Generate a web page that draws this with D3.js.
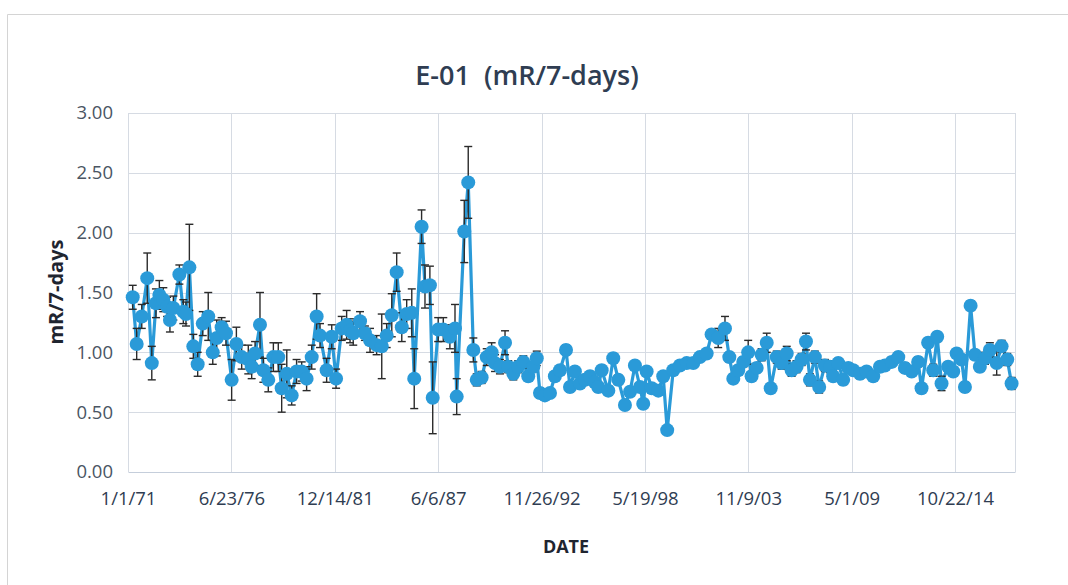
<!DOCTYPE html>
<html><head><meta charset="utf-8">
<script src="https://cdn.jsdelivr.net/npm/d3@7"></script>
<style>html,body{margin:0;padding:0;background:#fff;}svg{display:block;}text{white-space:pre;}</style>
</head><body>
<svg id="chart" width="1068" height="585"></svg>
<script>
// decimal-year sample dates
const years = [1971.25,1971.46,1971.73,1972.02,1972.26,1972.48,1972.66,1972.87,1973.07,1973.22,1973.40,1973.72,1973.93,1974.07,1974.25,1974.46,1974.69,1974.96,1975.25,1975.49,1975.70,1975.96,1976.19,1976.49,1976.74,1977.02,1977.37,1977.55,1977.73,1977.99,1978.17,1978.43,1978.70,1978.96,1979.14,1979.41,1979.67,1979.93,1980.20,1980.46,1980.73,1980.99,1981.17,1981.52,1981.79,1982.02,1982.32,1982.58,1982.76,1982.93,1983.29,1983.55,1983.82,1984.17,1984.44,1984.70,1984.97,1985.23,1985.50,1985.76,1986.03,1986.16,1986.55,1986.73,1986.99,1987.14,1987.43,1987.70,1988.05,1988.32,1988.41,1988.81,1989.02,1989.29,1989.47,1989.73,1990.00,1990.26,1990.44,1990.70,1990.97,1991.14,1991.41,1991.67,1991.94,1992.20,1992.47,1992.65,1992.82,1993.08,1993.35,1993.61,1993.88,1994.20,1994.41,1994.67,1994.94,1995.20,1995.47,1995.73,1995.91,1996.09,1996.44,1996.70,1996.97,1997.32,1997.59,1997.85,1998.12,1998.29,1998.47,1998.74,1999.09,1999.35,1999.56,1999.88,2000.23,2000.59,2000.94,2001.29,2001.65,2001.91,2002.26,2002.62,2002.85,2003.06,2003.32,2003.59,2003.85,2004.03,2004.30,2004.56,2004.83,2005.04,2005.36,2005.62,2005.89,2006.15,2006.41,2006.68,2006.91,2007.12,2007.38,2007.61,2007.91,2008.18,2008.35,2008.62,2008.88,2009.15,2009.41,2009.77,2010.12,2010.47,2010.83,2011.09,2011.45,2011.80,2012.15,2012.51,2012.85,2013.03,2013.38,2013.65,2013.86,2014.09,2014.44,2014.71,2014.89,2015.15,2015.33,2015.63,2015.86,2016.12,2016.39,2016.65,2017.01,2017.27,2017.57,2017.80];
// exposure, mR/7-days
const values = [1.46,1.07,1.30,1.62,0.91,1.41,1.48,1.44,1.38,1.27,1.37,1.65,1.34,1.32,1.71,1.05,0.90,1.24,1.30,1.00,1.12,1.21,1.16,0.77,1.07,0.96,0.94,0.88,0.99,1.23,0.85,0.77,0.96,0.96,0.70,0.82,0.64,0.84,0.84,0.78,0.96,1.30,1.14,0.85,1.13,0.78,1.20,1.23,1.18,1.16,1.26,1.16,1.10,1.06,1.05,1.14,1.31,1.67,1.21,1.32,1.33,0.78,2.05,1.55,1.56,0.62,1.19,1.19,1.13,1.20,0.63,2.01,2.42,1.02,0.77,0.79,0.96,1.00,0.91,0.88,1.08,0.88,0.82,0.88,0.92,0.80,0.88,0.95,0.66,0.64,0.66,0.80,0.85,1.02,0.71,0.84,0.74,0.77,0.80,0.75,0.71,0.85,0.68,0.95,0.77,0.56,0.67,0.89,0.71,0.57,0.84,0.70,0.68,0.80,0.35,0.85,0.89,0.91,0.91,0.96,0.99,1.15,1.12,1.20,0.96,0.78,0.85,0.92,1.00,0.80,0.87,0.98,1.08,0.70,0.96,0.91,0.99,0.85,0.88,0.94,1.09,0.77,0.96,0.71,0.89,0.88,0.80,0.91,0.77,0.87,0.85,0.82,0.84,0.80,0.88,0.89,0.92,0.96,0.87,0.84,0.92,0.70,1.08,0.85,1.13,0.74,0.88,0.84,0.99,0.94,0.71,1.39,0.98,0.88,0.95,1.02,0.91,1.05,0.94,0.74];
// +/- uncertainty
const errors = [0.10,0.13,0.10,0.21,0.14,0.12,0.12,0.10,0.08,0.10,0.10,0.08,0.10,0.10,0.36,0.10,0.10,0.10,0.20,0.10,0.15,0.08,0.10,0.17,0.14,0.10,0.12,0.10,0.10,0.27,0.10,0.10,0.12,0.12,0.20,0.20,0.08,0.10,0.08,0.10,0.10,0.19,0.10,0.10,0.10,0.08,0.10,0.12,0.10,0.10,0.08,0.06,0.10,0.08,0.27,0.10,0.18,0.16,0.12,0.12,0.20,0.25,0.14,0.18,0.16,0.30,0.10,0.10,0.10,0.20,0.15,0.26,0.30,0.10,0.05,0.05,0.07,0.08,0.07,0.06,0.10,0.05,0.05,0.05,0.05,0.04,0.04,0.06,0.04,0.03,0.03,0.04,0.04,0.04,0.04,0.04,0.04,0.04,0.04,0.04,0.04,0.04,0.04,0.04,0.04,0.03,0.03,0.03,0.03,0.03,0.03,0.03,0.03,0.03,0.03,0.03,0.03,0.03,0.03,0.03,0.03,0.03,0.08,0.10,0.04,0.04,0.04,0.04,0.10,0.04,0.04,0.05,0.08,0.04,0.05,0.05,0.06,0.05,0.05,0.05,0.07,0.05,0.05,0.05,0.05,0.05,0.04,0.04,0.04,0.04,0.04,0.04,0.04,0.04,0.04,0.04,0.04,0.04,0.04,0.04,0.04,0.04,0.04,0.05,0.04,0.06,0.04,0.04,0.04,0.04,0.04,0.04,0.03,0.04,0.05,0.06,0.10,0.05,0.05,0.05,0.05];
const yTicks = [0,0.5,1,1.5,2,2.5,3];
const tickStepDays = 2000;
const axisStart = "1971-01-01";
const axisSpanDays = 17160;
const title = "E-01  (mR/7-days)";
const yTitle = "mR/7-days";
const xTitle = "DATE";

function yearToDate(y){
  const yr = Math.floor(y);
  const s = Date.UTC(yr,0,1), e = Date.UTC(yr+1,0,1);
  return new Date(s + (y-yr)*(e-s));
}
const data = years.map((y,i)=>({d:yearToDate(y), v:values[i], e:errors[i]}));

const svg = d3.select("#chart");
const M = {l:128, r:1015, t:113, b:472};
const start = new Date(axisStart+"T00:00:00Z");
const end = d3.utcDay.offset(start, axisSpanDays);
const x = d3.scaleUtc().domain([start,end]).range([M.l,M.r]);
const y = d3.scaleLinear().domain([0,3]).range([M.b,M.t]);
const tickDates = d3.range(0, axisSpanDays, tickStepDays).map(k=>d3.utcDay.offset(start,k));
const fmt = d=>`${d.getUTCMonth()+1}/${d.getUTCDate()}/${String(d.getUTCFullYear()).slice(2)}`;

// chart border
svg.append("path").attr("d","M7.5,585 V14.5 H1068").attr("fill","none").attr("stroke","#d4d4d4").attr("stroke-width",1);

const font = "'Open Sans', 'Liberation Sans', sans-serif";
const grid = "#d6dbe3";

// horizontal gridlines
svg.append("g").selectAll("line").data(yTicks.filter(t=>t>0)).join("line")
  .attr("x1",M.l).attr("x2",M.r).attr("y1",d=>Math.round(y(d))+0.5).attr("y2",d=>Math.round(y(d))+0.5)
  .attr("stroke",grid).attr("stroke-width",1);
// vertical gridlines
svg.append("g").selectAll("line").data(tickDates).join("line")
  .attr("x1",d=>Math.round(x(d))+0.5).attr("x2",d=>Math.round(x(d))+0.5).attr("y1",M.t).attr("y2",M.b)
  .attr("stroke",grid).attr("stroke-width",1);
svg.append("line").attr("x1",M.r+0.5).attr("x2",M.r+0.5).attr("y1",M.t).attr("y2",M.b).attr("stroke",grid);

// axes
const yAxis = d3.axisLeft(y).tickValues(yTicks).tickFormat(d3.format(".2f")).tickSize(0).tickPadding(15);
const gy = svg.append("g").attr("transform",`translate(${M.l},0)`).call(yAxis);
gy.select(".domain").remove();
gy.selectAll("text").attr("font-family",font).attr("font-size",18.5).attr("fill","#4a5563");

const xAxis = d3.axisBottom(x).tickValues(tickDates).tickFormat(fmt).tickSize(0).tickPadding(20);
const gx = svg.append("g").attr("transform",`translate(0,${M.b})`).call(xAxis);
gx.select(".domain").attr("stroke","#c5cedb").attr("stroke-width",1.2);
gx.selectAll("text").attr("font-family",font).attr("font-size",18.5).attr("fill","#2f3d52");

// series line
svg.append("path").datum(data)
  .attr("d", d3.line().x(d=>x(d.d)).y(d=>y(d.v)))
  .attr("fill","none").attr("stroke","#2a9ad8").attr("stroke-width",3.2).attr("stroke-linejoin","round");

// error bars
const eb = svg.append("g").attr("stroke","#2b2b2b").attr("stroke-width",1.4);
eb.selectAll("line.v").data(data).join("line").attr("class","v")
  .attr("x1",d=>x(d.d)).attr("x2",d=>x(d.d)).attr("y1",d=>y(d.v+d.e)).attr("y2",d=>y(d.v-d.e));
eb.selectAll("line.t").data(data).join("line").attr("class","t")
  .attr("x1",d=>x(d.d)-4).attr("x2",d=>x(d.d)+4).attr("y1",d=>y(d.v+d.e)).attr("y2",d=>y(d.v+d.e));
eb.selectAll("line.b").data(data).join("line").attr("class","b")
  .attr("x1",d=>x(d.d)-4).attr("x2",d=>x(d.d)+4).attr("y1",d=>y(d.v-d.e)).attr("y2",d=>y(d.v-d.e));

// markers
svg.append("g").selectAll("circle").data(data).join("circle")
  .attr("cx",d=>x(d.d)).attr("cy",d=>y(d.v)).attr("r",7)
  .attr("fill","#2a9ad8");

// titles
svg.append("text").attr("x",527).attr("y",85).attr("text-anchor","middle")
  .attr("font-family",font).attr("font-size",27).attr("font-weight",600).attr("fill","#2f3d52").text(title);
svg.append("text").attr("transform","translate(63,292) rotate(-90)").attr("text-anchor","middle")
  .attr("font-family",font).attr("font-size",20).attr("font-weight",700).attr("fill","#1f2530").text(yTitle);
svg.append("text").attr("x",566).attr("y",553).attr("text-anchor","middle")
  .attr("font-family",font).attr("font-size",18).attr("font-weight",700).attr("fill","#1f2530").text(xTitle);
</script>
</body></html>
